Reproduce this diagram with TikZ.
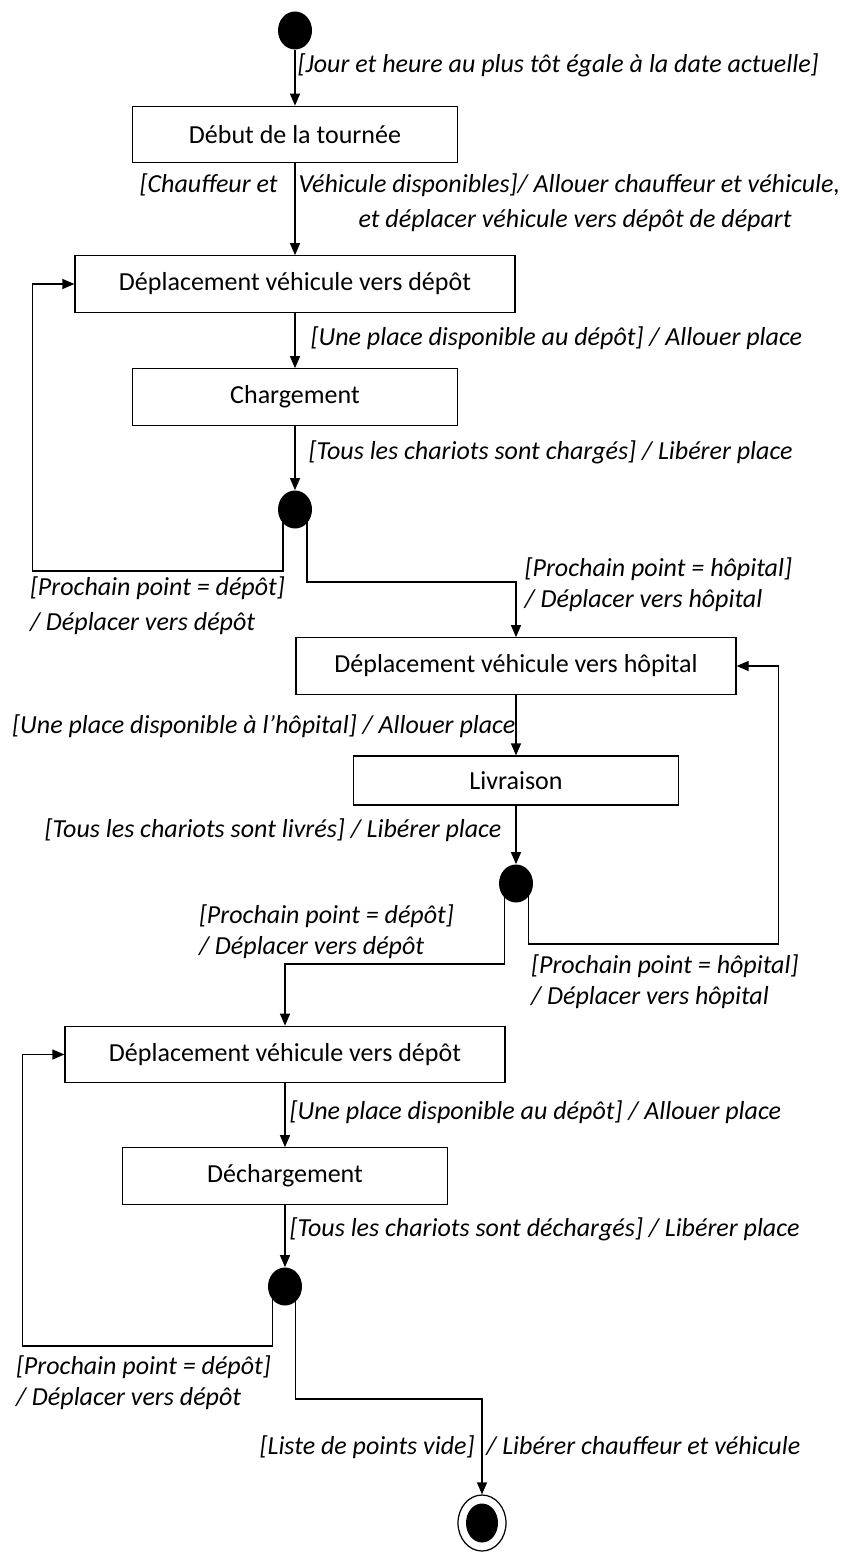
\documentclass[tikz,border=0pt]{standalone}
\usepackage{fontspec}
\setmainfont{Carlito}
\usetikzlibrary{shapes.geometric, arrows.meta}
\tikzstyle{etat} = [rectangle, minimum width=6.5cm, minimum height=1.13cm, text centered, draw=black, line width=0.7pt]
\tikzstyle{etatlong} = [etat, minimum width=8.8cm]
\tikzstyle{point} = [ellipse, minimum width=0.68cm, minimum height=0.76cm, inner sep=0pt, fill=black]
\tikzstyle{pointfinal} = [ellipse, minimum width=0.96cm, minimum height=1.12cm, inner sep=0pt, draw=black, line width=0.7pt, path picture={\fill[black] (path picture bounding box.center) ellipse (0.32cm and 0.39cm);}]
\tikzstyle{garde} = [font=\fontsize{14.8}{17.6}\selectfont\itshape, inner sep=0pt, align=left]
\tikzstyle{arrow} = [line width=0.7pt, ->, >={Triangle[length=0.24cm, width=0.2cm]}]
\begin{document}
\begin{tikzpicture}[node distance=1cm, font=\fontsize{14.8}{17.6}\selectfont]
           \useasboundingbox (0,0) rectangle (16.9,-31.04);
           \node (start) [point] at (5.9,-0.61) {};
           \node (debut) [etat, below of=start, yshift=-1.08cm] {Début de la tournée};
           \node (deplD) [etatlong, below of=debut, yshift=-1.99cm] {Déplacement véhicule vers dépôt};
           \node (charg) [etat, below of=deplD, yshift=-1.26cm] {Chargement};
           \node (choix1) [point, below of=charg, yshift=-1.25cm] {};
           \node (deplH) [etatlong, below of=choix1, xshift=4.42cm, yshift=-2.13cm] {Déplacement véhicule vers hôpital};
           \node (livr) [etat, below of=deplH, yshift=-1.29cm, minimum height=0.98cm] {Livraison};
           \node (choix2) [point, below of=livr, yshift=-1.06cm] {};
           \node (deplR) [etatlong, below of=choix2, xshift=-4.62cm, yshift=-2.42cm] {Déplacement véhicule vers dépôt};
           \node (decharg) [etat, below of=deplR, yshift=-1.43cm] {Déchargement};
           \node (choix3) [point, below of=decharg, yshift=-1.21cm] {};
           \node (fin) [pointfinal, below of=choix3, xshift=3.94cm, yshift=-3.73cm] {};

           \draw [arrow] (start) -- node[garde, anchor=west, xshift=0.04cm, yshift=0.25cm] {[Jour et heure au plus tôt égale à la date actuelle]} (debut);
           \draw [arrow] (debut) -- node[garde, anchor=west, xshift=-3.12cm, yshift=0.14cm] {[Chauffeur et\hspace{0.42cm}Véhicule disponibles]/ Allouer chauffeur et véhicule,\\[2.3pt]\hspace*{4.38cm}et déplacer véhicule vers dépôt de départ} (deplD);
           \draw [arrow] (deplD) -- node[garde, anchor=west, xshift=0.3cm, yshift=0.05cm] {[Une place disponible au dépôt] / Allouer place} (charg);
           \draw [arrow] (charg) -- node[garde, anchor=west, xshift=0.26cm, yshift=0.11cm] {[Tous les chariots sont chargés] / Libérer place} (choix1);
           \draw [arrow] ([xshift=-0.24cm]choix1.center) -- ++(0,-1.23) -| node[garde, anchor=west, xshift=-0.06cm, yshift=-0.69cm] {[Prochain point = dépôt]\\[2.3pt]/ Déplacer vers dépôt} ([xshift=-0.84cm]deplD.west) -- (deplD.west);
           \draw [arrow] ([xshift=0.24cm]choix1.center) -- ++(0,-1.45) -| node[garde, anchor=west, xshift=0.16cm, yshift=-0.05cm] {[Prochain point = hôpital]\\/ Déplacer vers hôpital} (deplH);
           \draw [arrow] (deplH) -- node[garde, anchor=east, yshift=-0.02cm] {[Une place disponible à l’hôpital] / Allouer place} (livr);
           \draw [arrow] (livr) -- node[garde, anchor=east, xshift=-0.28cm, yshift=0.09cm] {[Tous les chariots sont livrés] / Libérer place} (choix2);
           \draw [arrow] ([xshift=0.25cm]choix2.center) -- ++(0,-1.21) node[garde, anchor=west, xshift=0.04cm, yshift=-0.76cm] {[Prochain point = hôpital]\\/ Déplacer vers hôpital} -| ([xshift=0.84cm]deplH.east) -- (deplH.east);
           \draw [arrow] ([xshift=-0.23cm]choix2.center) -- ++(0,-1.61) node[garde, anchor=east, xshift=-1.0cm, yshift=0.64cm] {[Prochain point = dépôt]\\/ Déplacer vers dépôt} -| (deplR);
           \draw [arrow] (deplR) -- node[garde, anchor=west, xshift=0.08cm, yshift=0.07cm] {[Une place disponible au dépôt] / Allouer place} (decharg);
           \draw [arrow] (decharg) -- node[garde, anchor=west, xshift=0.08cm, yshift=0.13cm] {[Tous les chariots sont déchargés] / Libérer place} (choix3);
           \draw [arrow] ([xshift=-0.25cm]choix3.center) -- ++(0,-1.19) -| node[garde, anchor=west, xshift=-0.14cm, yshift=-0.74cm] {[Prochain point = dépôt]\\/ Déplacer vers dépôt} ([xshift=-0.84cm]deplR.west) -- (deplR.west);
           \draw [arrow] ([xshift=0.21cm]choix3.center) -- ++(0,-2.25) -| node[garde, pos=0.75, anchor=west, xshift=-4.46cm] {[Liste de points vide]\ \ / Libérer chauffeur et véhicule} (fin);
        \end{tikzpicture}
\end{document}
